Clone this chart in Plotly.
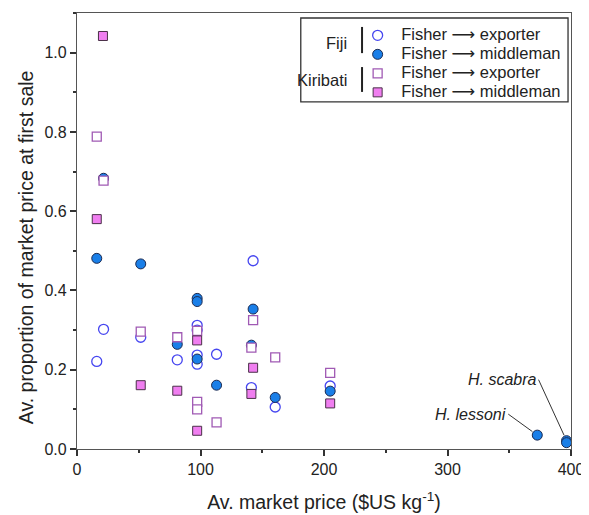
import plotly.graph_objects as go

# ---- data ----
fiji_exp_x = [16, 21.5, 51.6, 81.2, 97.3, 97.3, 97.3, 97.3, 113, 142.6, 141.2, 160.5, 205]
fiji_exp_y = [0.221, 0.302, 0.282, 0.225, 0.312, 0.300, 0.237, 0.214, 0.239, 0.475, 0.155, 0.106, 0.159]

fiji_mid_x = [16, 21.5, 51.6, 81.2, 97.3, 97.3, 97.3, 113, 142.6, 141.2, 160.5, 205, 372.7, 396.4, 396.4]
fiji_mid_y = [0.481, 0.683, 0.467, 0.264, 0.380, 0.372, 0.227, 0.161, 0.353, 0.262, 0.130, 0.146, 0.035, 0.021, 0.016]

kir_exp_x = [16, 21.5, 51.6, 81.2, 97.3, 97.3, 97.3, 113, 142.6, 141.2, 160.5, 205]
kir_exp_y = [0.788, 0.677, 0.296, 0.282, 0.298, 0.119, 0.100, 0.067, 0.325, 0.256, 0.231, 0.192]

kir_mid_x = [21, 16, 51.6, 81.2, 97.3, 97.3, 142.6, 141.2, 205]
kir_mid_y = [1.042, 0.580, 0.161, 0.147, 0.274, 0.046, 0.205, 0.139, 0.115]

species_labels = ["H. lessoni", "H. scabra"]
species_x = [372.7, 396.4]
species_y = [0.035, 0.021]

group_labels = ["Fiji", "Kiribati"]
flow_labels = ["exporter", "middleman", "exporter", "middleman"]

x_title = "Av. market price ($US kg<sup>-1</sup>)"
y_title = "Av. proportion of market price at first sale"

FONT = "Liberation Sans, Arial, sans-serif"


def legend_text(dest):
    return ("<span style='font-size:16.5px'>Fisher </span>"
            "<span style='font-size:16.5px;font-family:DejaVu Sans'>\u27f6</span>"
            "<span style='font-size:16.5px'> " + dest + "</span>")


fig = go.Figure()
fig.add_trace(go.Scatter(
    x=fiji_exp_x, y=fiji_exp_y, mode="markers", name=legend_text(flow_labels[0]),
    marker=dict(symbol="circle", size=10, color="white", line=dict(color="#4646f0", width=1.3))))
fig.add_trace(go.Scatter(
    x=fiji_mid_x, y=fiji_mid_y, mode="markers", name=legend_text(flow_labels[1]),
    marker=dict(symbol="circle", size=10, color="#1a7fe8", line=dict(color="#1c2a50", width=1))))
fig.add_trace(go.Scatter(
    x=kir_exp_x, y=kir_exp_y, mode="markers", name=legend_text(flow_labels[2]),
    marker=dict(symbol="square", size=9, color="white", line=dict(color="#a05ab4", width=1.3))))
fig.add_trace(go.Scatter(
    x=kir_mid_x, y=kir_mid_y, mode="markers", name=legend_text(flow_labels[3]),
    marker=dict(symbol="square", size=9, color="#f07ef0", line=dict(color="#4a3048", width=1))))

# species annotations
offsets = [(-29, -21), (-28, -61)]
for lab, xx, yy, (ax, ay) in zip(species_labels, species_x, species_y, offsets):
    fig.add_annotation(x=xx, y=yy, text="<i>" + lab + "</i>", showarrow=True,
                       ax=ax, ay=ay, arrowhead=0, arrowwidth=1, arrowcolor="#333",
                       standoff=6, xanchor="right", yanchor="middle",
                       font=dict(size=16, color="#222", family=FONT))

# legend group labels and bars
fig.add_annotation(xref="paper", yref="paper", x=0.551, y=0.931, text=group_labels[0], showarrow=False,
                   xanchor="right", yanchor="middle", font=dict(size=16.5, color="#222", family=FONT))
fig.add_annotation(xref="paper", yref="paper", x=0.551, y=0.846, text=group_labels[1], showarrow=False,
                   xanchor="right", yanchor="middle", font=dict(size=16.5, color="#222", family=FONT))
fig.add_shape(type="line", xref="paper", yref="paper", x0=0.577, x1=0.577, y0=0.908, y1=0.968,
              line=dict(color="#222", width=2))
fig.add_shape(type="line", xref="paper", yref="paper", x0=0.577, x1=0.577, y0=0.819, y1=0.876,
              line=dict(color="#222", width=2))
fig.add_shape(type="rect", xref="paper", yref="paper", x0=0.453, x1=0.994, y0=0.796, y1=0.9885,
              line=dict(color="#333", width=1.3))

# y-axis title (placed as an annotation so it sits where the reference has it)
fig.add_annotation(xref="paper", yref="paper", x=-0.103, y=0.463, text=y_title, showarrow=False,
                   textangle=-90, xanchor="center", yanchor="middle",
                   font=dict(size=19.5, color="#222", family=FONT))

axis_common = dict(showline=True, linecolor="#555", linewidth=1.3, mirror=True,
                   ticks="outside", ticklen=6, tickcolor="#333", tickwidth=1.5,
                   showgrid=False, zeroline=False, automargin=False,
                   tickfont=dict(size=16, color="#222", family=FONT))

fig.update_xaxes(range=[0, 400], dtick=100, tick0=0,
                 minor=dict(ticks="outside", ticklen=3, dtick=50, tickcolor="#333"),
                 title=dict(text=x_title, font=dict(size=19.5, color="#222", family=FONT), standoff=18),
                 **axis_common)
fig.update_yaxes(range=[0, 1.1], dtick=0.2, tick0=0, tickformat=".1f",
                 minor=dict(ticks="outside", ticklen=3, dtick=0.1, tickcolor="#333"),
                 **axis_common)

# page body adds an 8px offset, so margins are shifted by 8px to land the plot where the reference has it
fig.update_layout(
    width=589, height=515,
    margin=dict(l=69, r=26, t=5, b=74),
    plot_bgcolor="white", paper_bgcolor="white",
    font=dict(family=FONT, color="#222"),
    legend=dict(x=0.561, xanchor="left", y=0.982, yanchor="top", bgcolor="rgba(0,0,0,0)",
                font=dict(size=12, color="#222", family=FONT), tracegroupgap=0, itemwidth=37),
)

fig.write_html("out.html")
